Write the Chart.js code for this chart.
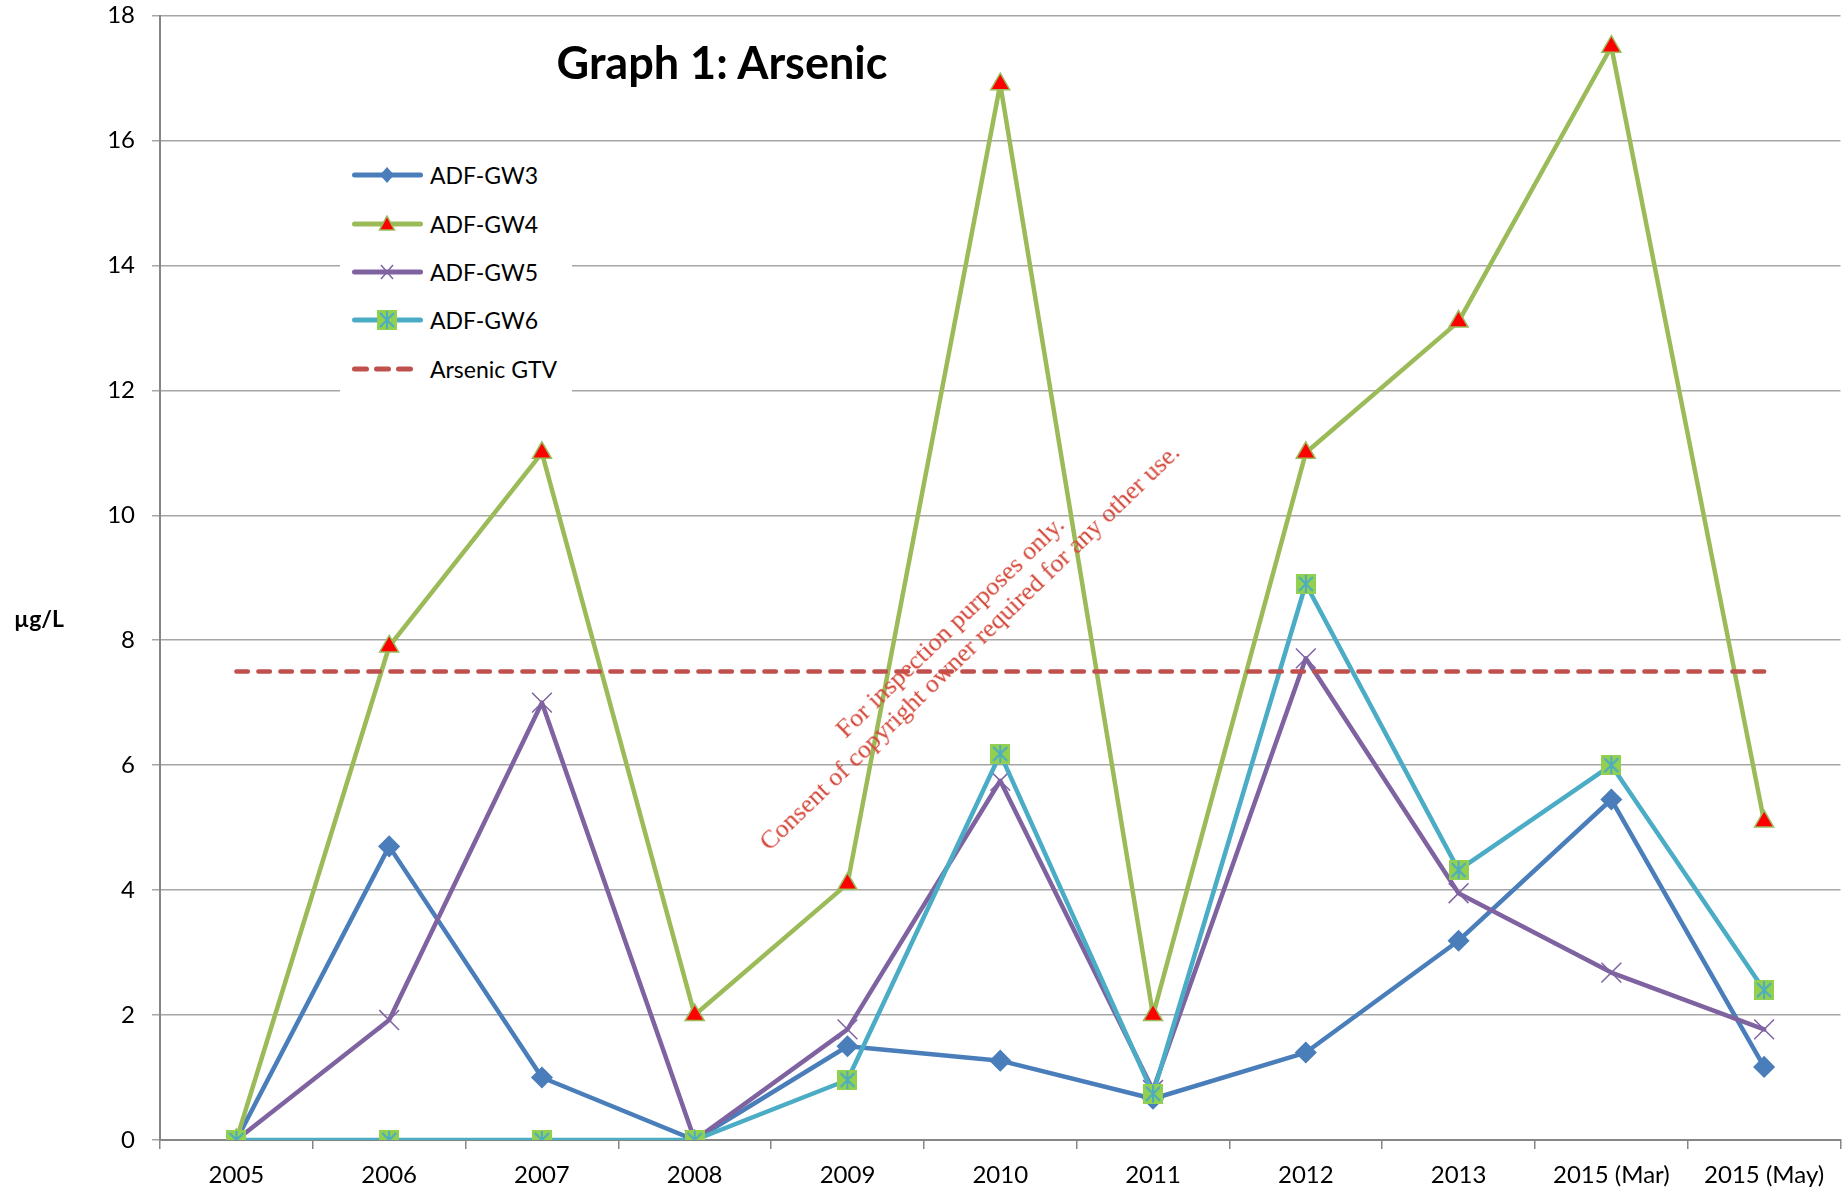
<!DOCTYPE html>
<html lang="en">
<head>
<meta charset="UTF-8">
<title>Graph 1: Arsenic</title>
<style>
  body { margin: 0; background: #fff; overflow: hidden; }
  #wrap { position: relative; width: 1847px; height: 1199px; overflow: hidden; font-family: Lato, "Open Sans", sans-serif; color: #000; }
  #chart { position: absolute; left: 0; top: 0; }
  .title { position: absolute; left: 472px; width: 500px; top: 35px; text-align: center; font-weight: bold; font-size: 45px; line-height: 54px; }
  .ylabel { position: absolute; left: 14px; top: 605px; font-weight: bold; font-size: 23px; line-height: 27px; }
  .legend { position: absolute; left: 340px; top: 151px; width: 232px; height: 244px; background: #fff; }
  .legend .item { display: flex; align-items: center; height: 48.4px; font-size: 23px; }
  .legend svg { margin-left: 10px; flex: none; }
  .mark { position: absolute; left: 960px; top: 637px; transform: translate(-50%, -50%) rotate(-44deg);
          white-space: nowrap; text-align: center; font-family: "Liberation Serif", "DejaVu Serif", serif;
          font-size: 26px; line-height: 28px; color: #d4473a; }
</style>
</head>
<body>
<div id="wrap">
  <canvas id="chart" width="1856" height="1199"></canvas>
  <div class="title">Graph 1: Arsenic</div>
  <div class="ylabel">µg/L</div>
  <div class="legend" id="legend"></div>
  <div class="mark">For inspection purposes only.<br>Consent of copyright owner required for any other use.</div>
</div>

<script src="https://cdn.jsdelivr.net/npm/chart.js@4.4.1/dist/chart.umd.min.js"></script>
<script>
// data
var categories = ['2005', '2006', '2007', '2008', '2009', '2010', '2011', '2012', '2013', '2015 (Mar)', '2015 (May)'];
var seriesNames = ['ADF-GW3', 'ADF-GW4', 'ADF-GW5', 'ADF-GW6', 'Arsenic GTV'];
var gw3 = [0, 4.7, 1.0, 0, 1.5, 1.27, 0.66, 1.4, 3.19, 5.45, 1.17];
var gw4 = [0, 7.9, 11.0, 2.0, 4.1, 16.9, 2.0, 11.0, 13.1, 17.5, 5.1];
var gw5 = [0, 1.92, 7.0, 0, 1.77, 5.75, 0.8, 7.71, 3.95, 2.68, 1.77];
var gw6 = [0, 0, 0, 0, 0.96, 6.18, 0.74, 8.9, 4.32, 6.0, 2.4];
var gtv = [7.5, 7.5, 7.5, 7.5, 7.5, 7.5, 7.5, 7.5, 7.5, 7.5, 7.5];
var yTicks = [0, 2, 4, 6, 8, 10, 12, 14, 16, 18];

var blue = '#4a7ebb', green = '#9bbb59', purple = '#7f63a1', teal = '#4bacc6', red = '#c0504d';
var lime = '#92d050';

// green square with teal star, like the Excel marker
function squareStar(size) {
    var c = document.createElement('canvas');
    c.width = size; c.height = size;
    var g = c.getContext('2d');
    g.fillStyle = lime;
    g.fillRect(0, 0, size, size);
    g.strokeStyle = teal;
    g.lineWidth = 2;
    g.beginPath();
    g.moveTo(size / 2, 1); g.lineTo(size / 2, size - 1);
    g.moveTo(3, 3); g.lineTo(size - 3, size - 3);
    g.moveTo(size - 3, 3); g.lineTo(3, size - 3);
    g.stroke();
    return c;
}

function line(label, data, color, extra) {
    var ds = {
        label: label, data: data, borderColor: color, backgroundColor: color,
        borderWidth: 4.5, tension: 0, borderJoinStyle: 'round', borderCapStyle: 'round',
        pointBorderWidth: 1.5
    };
    for (var k in extra) ds[k] = extra[k];
    return ds;
}

var datasets = [
    line(seriesNames[0], gw3, blue, { order: 5, pointStyle: 'rectRot', pointRadius: 10, pointBackgroundColor: blue, pointBorderColor: blue }),
    line(seriesNames[1], gw4, green, { order: 4, pointStyle: 'triangle', pointRadius: 11, pointBackgroundColor: '#ff0000', pointBorderColor: green }),
    line(seriesNames[2], gw5, purple, { order: 3, pointStyle: 'crossRot', pointRadius: 14, pointBorderColor: purple, pointBorderWidth: 1.5 }),
    line(seriesNames[3], gw6, teal, { order: 2, pointStyle: squareStar(20), pointRadius: 10 }),
    line(seriesNames[4], gtv, red, { order: 1, pointRadius: 0, borderDash: [11.5, 10.5], borderCapStyle: 'round' })
];

new Chart(document.getElementById('chart').getContext('2d'), {
    type: 'line',
    data: { labels: categories, datasets: datasets },
    options: {
        responsive: false,
        animation: false,
        devicePixelRatio: 1,
        layout: { padding: { top: 15, right: 0, left: 0, bottom: 0 } },
        plugins: { legend: { display: false }, tooltip: { enabled: false } },
        scales: {
            x: {
                offset: true,
                grid: { offset: true, drawOnChartArea: false, drawTicks: true, tickLength: 9, color: '#868686', lineWidth: 1.5 },
                border: { color: '#868686', width: 2 },
                ticks: { color: '#000', font: { family: 'Lato', size: 24 }, padding: 12, maxRotation: 0 },
                afterFit: function (s) { s.height = 59; s.paddingLeft = 0; s.paddingRight = 0; }
            },
            y: {
                min: 0, max: 18,
                afterBuildTicks: function (s) { s.ticks = yTicks.map(function (v) { return { value: v }; }); },
                grid: { color: '#a6a6a6', lineWidth: 1.5, tickLength: 8 },
                border: { color: '#868686', width: 2 },
                ticks: { color: '#000', font: { family: 'Lato', size: 24 }, padding: 17 },
                afterFit: function (s) { s.width = 160; s.paddingTop = 0; s.paddingBottom = 0; }
            }
        }
    }
});

// legend, Excel style (line sample with marker)
var icons = [
    '<line x1="4.5" y1="12" x2="70.5" y2="12" stroke="' + blue + '" stroke-width="5" stroke-linecap="round"/>' +
    '<polygon points="37,4 44,12 37,20 30,12" fill="' + blue + '"/>',
    '<line x1="4.5" y1="12" x2="70.5" y2="12" stroke="' + green + '" stroke-width="5" stroke-linecap="round"/>' +
    '<polygon points="37,4 44.5,18 29.5,18" fill="#ff0000" stroke="' + green + '" stroke-width="1.5"/>',
    '<line x1="4.5" y1="12" x2="70.5" y2="12" stroke="' + purple + '" stroke-width="5" stroke-linecap="round"/>' +
    '<path d="M31 5 L43 19 M43 5 L31 19" stroke="' + purple + '" stroke-width="1.5"/>',
    '<line x1="4.5" y1="12" x2="70.5" y2="12" stroke="' + teal + '" stroke-width="5" stroke-linecap="round"/>' +
    '<rect x="27" y="2" width="20" height="20" fill="' + lime + '"/>' +
    '<path d="M37 3 L37 21 M30 5 L44 19 M44 5 L30 19" stroke="' + teal + '" stroke-width="2"/>',
    '<line x1="4.5" y1="12" x2="70.5" y2="12" stroke="' + red + '" stroke-width="5" stroke-linecap="round" stroke-dasharray="12 10"/>'
];
var html = '';
for (var i = 0; i < seriesNames.length; i++) {
    html += '<div class="item"><svg width="80" height="24">' + icons[i] + '</svg><span>' + seriesNames[i] + '</span></div>';
}
document.getElementById('legend').innerHTML = html;
</script>
</body>
</html>
